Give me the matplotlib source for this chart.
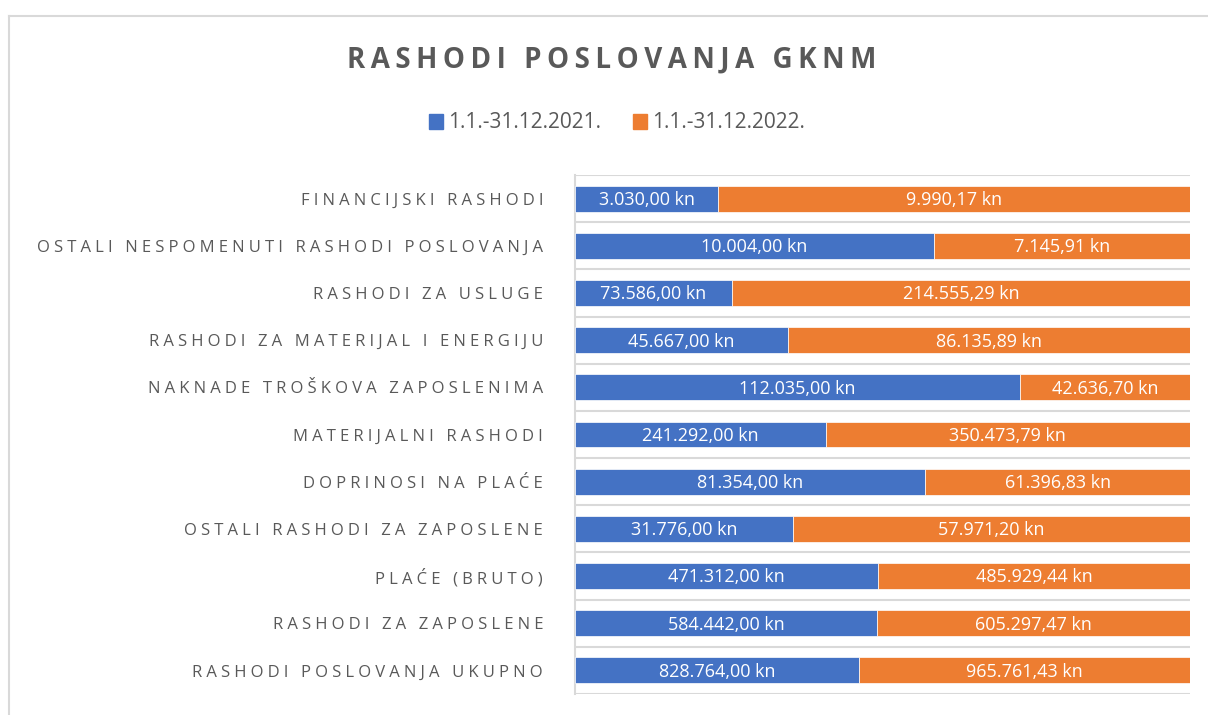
import matplotlib.pyplot as plt
from matplotlib.lines import Line2D
from matplotlib.patches import Patch

# data, top to bottom as shown in the chart
categories = ['FINANCIJSKI RASHODI', 'OSTALI NESPOMENUTI RASHODI POSLOVANJA', 'RASHODI ZA USLUGE',
              'RASHODI ZA MATERIJAL I ENERGIJU', 'NAKNADE TROŠKOVA ZAPOSLENIMA', 'MATERIJALNI RASHODI',
              'DOPRINOSI NA PLAĆE', 'OSTALI RASHODI ZA ZAPOSLENE', 'PLAĆE (BRUTO)',
              'RASHODI ZA ZAPOSLENE', 'RASHODI POSLOVANJA UKUPNO']
values_2021 = [3030.00, 10004.00, 73586.00, 45667.00, 112035.00, 241292.00,
               81354.00, 31776.00, 471312.00, 584442.00, 828764.00]
values_2022 = [9990.17, 7145.91, 214555.29, 86135.89, 42636.70, 350473.79,
               61396.83, 57971.20, 485929.44, 605297.47, 965761.43]
series_names = ['1.1.-31.12.2021.', '1.1.-31.12.2022.']

BLUE = '#4472C4'
ORANGE = '#ED7D31'
GRAY = '#595959'
GRID = '#d9d9d9'
FONT = ['Open Sans', 'DejaVu Sans']


def kn(v):
    # croatian number format: 1.234,56 kn
    s = f'{v:,.2f}'.replace(',', 'X').replace('.', ',').replace('X', '.')
    return s + ' kn'


def spaced(text, gap='\u2009'):
    return gap.join(text)


fig = plt.figure(figsize=(12.08, 7.15), dpi=100)
ax = fig.add_axes([575 / 1208, 1 - 694 / 715, 615 / 1208, 519 / 715])

n = len(categories)
y = list(range(n))
share_a = [a / (a + b) for a, b in zip(values_2021, values_2022)]
share_b = [b / (a + b) for a, b in zip(values_2021, values_2022)]

ax.barh(y, share_a, height=0.55, color=BLUE, edgecolor='white', linewidth=0.5, zorder=3)
ax.barh(y, share_b, left=share_a, height=0.55, color=ORANGE, edgecolor='white', linewidth=0.5, zorder=3)

for i in range(n):
    ax.text(share_a[i] / 2, i + 0.03, kn(values_2021[i]), ha='center', va='center', color='white',
            fontsize=13, family=FONT, zorder=4)
    ax.text(share_a[i] + share_b[i] / 2, i + 0.03, kn(values_2022[i]), ha='center', va='center',
            color='white', fontsize=13, family=FONT, zorder=4)

# category separators
for k in range(n + 1):
    ax.axhline(k - 0.5, color=GRID, lw=1.5, zorder=1)

ax.set_xlim(0, 1)
ax.set_ylim(n - 0.5, -0.5)
ax.set_xticks([])
ax.set_yticks(y)
ax.set_yticklabels([spaced(c, '\u2005') for c in categories], family=FONT, fontsize=12, color=GRAY)
ax.tick_params(axis='y', length=0, pad=23)
for s in ['top', 'right', 'bottom']:
    ax.spines[s].set_visible(False)
ax.spines['left'].set_color(GRID)
ax.spines['left'].set_linewidth(1.5)

fig.text(612 / 1208, 1 - 60 / 715, spaced('RASHODI POSLOVANJA GKNM'), ha='center', va='center',
         fontsize=20, fontweight='bold', color=GRAY, family=FONT)

handles = [Patch(color=BLUE), Patch(color=ORANGE)]
fig.legend(handles, series_names, loc='center', bbox_to_anchor=(617 / 1208, 1 - 123 / 715), ncol=2,
           frameon=False, handlelength=0.7, handleheight=0.7, handletextpad=0.25, columnspacing=1.5,
           prop={'family': FONT, 'size': 15}, labelcolor=GRAY)

# outer chart frame (left and top edges visible)
fig.add_artist(Line2D([8.5 / 1208, 8.5 / 1208], [0, 1 - 15.5 / 715], color=GRID, lw=1.5))
fig.add_artist(Line2D([8.5 / 1208, 1], [1 - 15.5 / 715, 1 - 15.5 / 715], color=GRID, lw=1.5))

fig.savefig('out.png', dpi=100)
